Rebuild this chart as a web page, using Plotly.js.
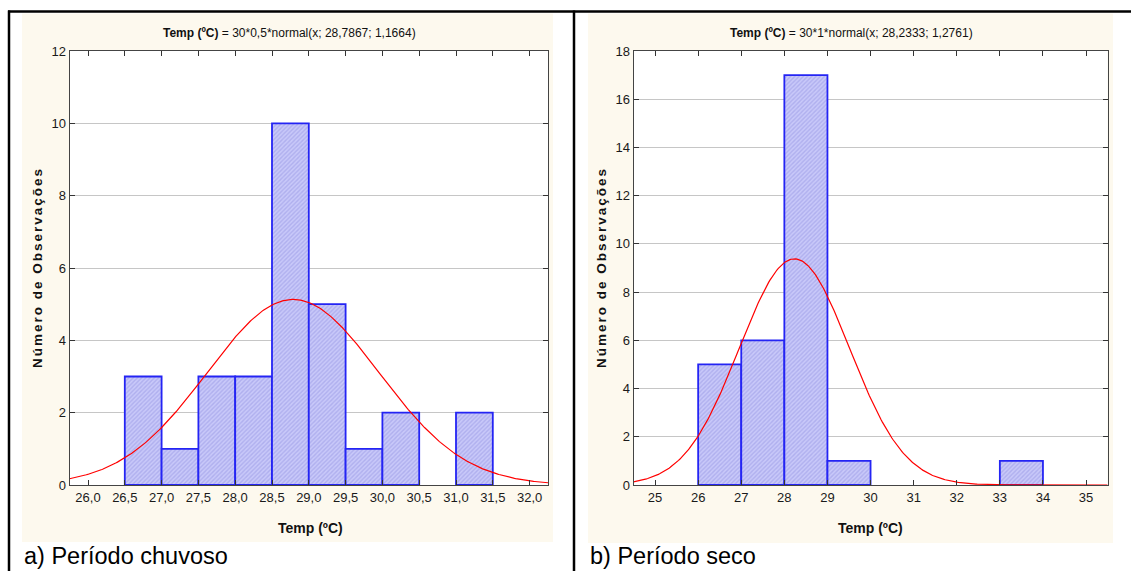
<!DOCTYPE html>
<html>
<head>
<meta charset="utf-8">
<script src="https://cdn.plot.ly/plotly-3.0.1.min.js"></script>
<style>
  html, body { margin: 0; padding: 0; background: #fff; }
  #chart { width: 1131px; height: 571px; }
</style>
</head>
<body>
<div id="chart"></div>
<script>
// Histogram of water temperature, rainy period (0.5 °C bins)
const chuvosoBinStart = [26.5, 27.0, 27.5, 28.0, 28.5, 29.0, 29.5, 30.0, 31.0];
const chuvosoCounts   = [3, 1, 3, 3, 10, 5, 1, 2, 2];
const chuvosoBinWidth = 0.5;
const chuvosoFit = { n: 30, mean: 28.7867, sd: 1.1664 };

// Histogram of water temperature, dry period (1 °C bins)
const secoBinStart = [26, 27, 28, 29, 33];
const secoCounts   = [5, 6, 17, 1, 1];
const secoBinWidth = 1;
const secoFit = { n: 30, mean: 28.2333, sd: 1.2761 };

const chuvosoTicks = [26.0, 26.5, 27.0, 27.5, 28.0, 28.5, 29.0, 29.5, 30.0, 30.5, 31.0, 31.5, 32.0];
const secoTicks = [25, 26, 27, 28, 29, 30, 31, 32, 33, 34, 35];

const titleChuvoso = '<b>Temp (ºC)</b> = 30*0,5*normal(x; 28,7867; 1,1664)';
const titleSeco = '<b>Temp (ºC)</b> = 30*1*normal(x; 28,2333; 1,2761)';
const xTitle = '<b>Temp (ºC)</b>';
const yTitle = '<b>Número de Observações</b>';
const captionChuvoso = 'a) Período chuvoso';
const captionSeco = 'b) Período seco';

// ---- layout helpers (pixel -> paper fractions) ----
const W = 1131, H = 571;
const fx = x => x / W;
const fy = y => 1 - y / H;

const xRangeA = [25.75, 32.25];
const xRangeB = [24.5, 35.5];

// expected-frequency curve: n * binWidth * normal pdf
function normalCurve(fit, binWidth, range) {
  const xs = [], ys = [];
  const steps = 400;
  for (let i = 0; i <= steps; i++) {
    const x = range[0] + (range[1] - range[0]) * i / steps;
    const z = (x - fit.mean) / fit.sd;
    xs.push(x);
    ys.push(fit.n * binWidth * Math.exp(-0.5 * z * z) / (fit.sd * Math.sqrt(2 * Math.PI)));
  }
  return { xs, ys };
}

const barMarker = {
  color: '#c2c2f8',
  line: { color: '#2424f4', width: 1.8 },
  pattern: { shape: '/', fgcolor: '#afafee', bgcolor: '#c9c9fa', size: 3, solidity: 0.45 }
};

const centers = (starts, w) => starts.map(s => s + w / 2);

const curveA = normalCurve(chuvosoFit, chuvosoBinWidth, xRangeA);
const curveB = normalCurve(secoFit, secoBinWidth, xRangeB);

const traces = [
  {
    type: 'bar', x: centers(chuvosoBinStart, chuvosoBinWidth), y: chuvosoCounts,
    width: chuvosoBinStart.map(() => chuvosoBinWidth), marker: barMarker,
    xaxis: 'x', yaxis: 'y', hoverinfo: 'x+y'
  },
  {
    type: 'scatter', mode: 'lines', x: curveA.xs, y: curveA.ys,
    line: { color: '#ff0000', width: 1.2 }, xaxis: 'x', yaxis: 'y', hoverinfo: 'skip'
  },
  {
    type: 'bar', x: centers(secoBinStart, secoBinWidth), y: secoCounts,
    width: secoBinStart.map(() => secoBinWidth), marker: barMarker,
    xaxis: 'x2', yaxis: 'y2', hoverinfo: 'x+y'
  },
  {
    type: 'scatter', mode: 'lines', x: curveB.xs, y: curveB.ys,
    line: { color: '#ff0000', width: 1.2 }, xaxis: 'x2', yaxis: 'y2', hoverinfo: 'skip'
  }
];

const fam = 'Liberation Sans, Arial, sans-serif';
const tickFont = { family: fam, size: 13, color: '#1a1a1a' };

const axisCommon = {
  showline: true, linecolor: '#444', linewidth: 1,
  ticks: 'inside', ticklen: 5, tickcolor: '#333', tickwidth: 1,
  mirror: 'ticks', zeroline: false, tickfont: tickFont, fixedrange: true
};

const plotTop = 51, plotBottom = 485;

const layout = {
  width: W, height: H,
  margin: { l: 0, r: 0, t: 0, b: 0 },
  paper_bgcolor: '#ffffff',
  plot_bgcolor: '#ffffff',
  separators: ',.',
  showlegend: false,
  bargap: 0,
  xaxis: Object.assign({}, axisCommon, {
    domain: [fx(69.6), fx(548)], range: xRangeA,
    tickvals: chuvosoTicks, tickformat: '.1f', showgrid: false, anchor: 'y'
  }),
  yaxis: Object.assign({}, axisCommon, {
    domain: [fy(plotBottom), fy(plotTop)], range: [0, 12], dtick: 2,
    showgrid: true, gridcolor: '#c6c6c6', gridwidth: 1, anchor: 'x'
  }),
  xaxis2: Object.assign({}, axisCommon, {
    domain: [fx(633.5), fx(1107.6)], range: xRangeB,
    tickvals: secoTicks, showgrid: false, anchor: 'y2'
  }),
  yaxis2: Object.assign({}, axisCommon, {
    domain: [fy(plotBottom), fy(plotTop)], range: [0, 18], dtick: 2,
    showgrid: true, gridcolor: '#c6c6c6', gridwidth: 1, anchor: 'x2'
  }),
  shapes: [
    // cream graph backgrounds
    { type: 'rect', xref: 'paper', yref: 'paper', layer: 'below',
      x0: fx(22), x1: fx(553), y0: fy(542), y1: fy(13.5), fillcolor: '#fdf9ee', line: { width: 0 } },
    { type: 'rect', xref: 'paper', yref: 'paper', layer: 'below',
      x0: fx(588), x1: fx(1113), y0: fy(543), y1: fy(13.5), fillcolor: '#fdf9ee', line: { width: 0 } },
    // white plotting areas
    { type: 'rect', xref: 'x domain', yref: 'y domain', layer: 'below',
      x0: 0, x1: 1, y0: 0, y1: 1, fillcolor: '#ffffff', line: { width: 0 } },
    { type: 'rect', xref: 'x2 domain', yref: 'y2 domain', layer: 'below',
      x0: 0, x1: 1, y0: 0, y1: 1, fillcolor: '#ffffff', line: { width: 0 } },
    // table frame
    { type: 'line', xref: 'paper', yref: 'paper', x0: fx(8), x1: 1, y0: fy(11.5), y1: fy(11.5),
      line: { color: '#000', width: 2.5 } },
    { type: 'line', xref: 'paper', yref: 'paper', x0: fx(9), x1: fx(9), y0: 0, y1: fy(10.5),
      line: { color: '#000', width: 2.5 } },
    { type: 'line', xref: 'paper', yref: 'paper', x0: fx(574), x1: fx(574), y0: 0, y1: fy(10.5),
      line: { color: '#000', width: 2.5 } }
  ],
  annotations: [
    { text: titleChuvoso, xref: 'paper', yref: 'paper', x: fx(289), y: fy(33),
      xanchor: 'center', yanchor: 'middle', showarrow: false,
      font: { family: fam, size: 12, color: '#111' } },
    { text: titleSeco, xref: 'paper', yref: 'paper', x: fx(851), y: fy(33),
      xanchor: 'center', yanchor: 'middle', showarrow: false,
      font: { family: fam, size: 12, color: '#111' } },
    { text: xTitle, xref: 'paper', yref: 'paper', x: fx(310), y: fy(528),
      xanchor: 'center', yanchor: 'middle', showarrow: false,
      font: { family: fam, size: 14, color: '#111' } },
    { text: xTitle, xref: 'paper', yref: 'paper', x: fx(870), y: fy(528),
      xanchor: 'center', yanchor: 'middle', showarrow: false,
      font: { family: fam, size: 14, color: '#111' } },
    { text: yTitle, xref: 'paper', yref: 'paper', x: fx(37), y: fy(268), textangle: -90,
      xanchor: 'center', yanchor: 'middle', showarrow: false,
      font: { family: fam, size: 13.5, color: '#111' } },
    { text: yTitle, xref: 'paper', yref: 'paper', x: fx(601), y: fy(268), textangle: -90,
      xanchor: 'center', yanchor: 'middle', showarrow: false,
      font: { family: fam, size: 13.5, color: '#111' } },
    { text: captionChuvoso, xref: 'paper', yref: 'paper', x: fx(22), y: fy(556),
      xanchor: 'left', yanchor: 'middle', showarrow: false,
      font: { family: fam, size: 23.5, color: '#000' } },
    { text: captionSeco, xref: 'paper', yref: 'paper', x: fx(588), y: fy(556),
      xanchor: 'left', yanchor: 'middle', showarrow: false,
      font: { family: fam, size: 23.5, color: '#000' } }
  ]
};

Plotly.newPlot('chart', traces, layout, { staticPlot: true, displayModeBar: false }).then(() => {
  // spaced-out lettering for the vertical axis titles
  document.querySelectorAll('#chart .annotation-text').forEach(t => {
    if (t.textContent.indexOf('Observações') >= 0) {
      t.style.letterSpacing = '2px';
    }
  });
});
</script>
</body>
</html>
